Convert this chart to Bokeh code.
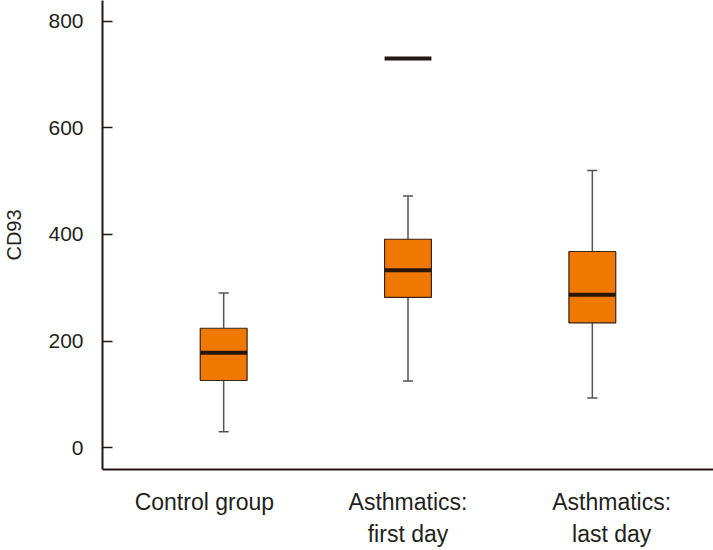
from bokeh.plotting import figure
from bokeh.models import Range1d, FixedTicker, ColumnDataSource
from bokeh.embed import file_html
from bokeh.resources import INLINE

# Data
groups = ["Control group", "Asthmatics:\nfirst day", "Asthmatics:\nlast day"]
lower = [30, 125, 93]
q1 = [126, 282, 234]
median = [178, 333, 287]
q3 = [224, 391, 368]
upper = [290, 472, 520]
outlier_group = [1]
outlier_value = [730]
y_ticks = [0, 200, 400, 600, 800]

FONT = "Liberation Sans"
TXT = "#231f20"

p = figure(width=713, height=550, output_backend="svg", toolbar_location=None,
           x_range=Range1d(0, 3), y_range=Range1d(-41, 839),
           min_border_left=101, min_border_right=0, min_border_top=0,
           min_border_bottom=79)
p.outline_line_color = None
p.xgrid.visible = False
p.ygrid.visible = False

# layout: label slots at i+0.5, boxes slightly compressed toward centre
n = len(groups)
label_pos = [i + 0.5 for i in range(n)]
box_pos = [1.5 + (i - 1) * 0.905 for i in range(n)]
bw = 0.23
cap = 0.05

src = ColumnDataSource(dict(
    x=box_pos, lower=lower, q1=q1, med=median, q3=q3, upper=upper,
    x0=[x - bw / 2 for x in box_pos], x1=[x + bw / 2 for x in box_pos],
    c0=[x - cap / 2 for x in box_pos], c1=[x + cap / 2 for x in box_pos],
))

wcol = "#555555"
p.segment(x0="x", x1="x", y0="q3", y1="upper", source=src, line_color=wcol, line_width=1.5)
p.segment(x0="x", x1="x", y0="lower", y1="q1", source=src, line_color=wcol, line_width=1.5)
p.segment(x0="c0", x1="c1", y0="upper", y1="upper", source=src, line_color=wcol, line_width=1.5)
p.segment(x0="c0", x1="c1", y0="lower", y1="lower", source=src, line_color=wcol, line_width=1.5)
p.vbar(x="x", width=bw, top="q3", bottom="q1", source=src,
       fill_color="#ef7800", line_color="#3a2410", line_width=1.2)
p.segment(x0="x0", x1="x1", y0="med", y1="med", source=src,
          line_color="#2a1608", line_width=4)

osrc = ColumnDataSource(dict(
    x0=[box_pos[g] - bw / 2 for g in outlier_group],
    x1=[box_pos[g] + bw / 2 for g in outlier_group],
    y=outlier_value))
p.segment(x0="x0", x1="x1", y0="y", y1="y", source=osrc,
          line_color="#231815", line_width=4)

# x axis
xa = p.xaxis[0]
xa.ticker = FixedTicker(ticks=label_pos)
xa.major_label_overrides = {pos: g for pos, g in zip(label_pos, groups)}
xa.major_tick_line_color = None
xa.minor_tick_line_color = None
xa.major_tick_out = 0
xa.major_tick_in = 0
xa.major_label_standoff = 19
xa.axis_line_color = "#231815"
xa.axis_line_width = 2
xa.major_label_text_font = FONT
xa.major_label_text_font_size = "23px"
xa.major_label_text_color = TXT
xa.major_label_text_line_height = 1.25

# y axis
ya = p.yaxis[0]
ya.ticker = FixedTicker(ticks=y_ticks)
ya.major_tick_in = 10
ya.major_tick_out = 0
ya.minor_tick_line_color = None
ya.major_tick_line_color = "#231815"
ya.major_tick_line_width = 1.5
ya.axis_line_color = "#231815"
ya.axis_line_width = 2
ya.major_label_standoff = 19
ya.major_label_text_font = FONT
ya.major_label_text_font_size = "21px"
ya.major_label_text_color = TXT
ya.axis_label = "CD93"
ya.axis_label_text_font = FONT
ya.axis_label_text_font_size = "20px"
ya.axis_label_text_font_style = "normal"
ya.axis_label_text_color = TXT
ya.axis_label_standoff = 20

open("out.html", "w").write(file_html(p, INLINE))
